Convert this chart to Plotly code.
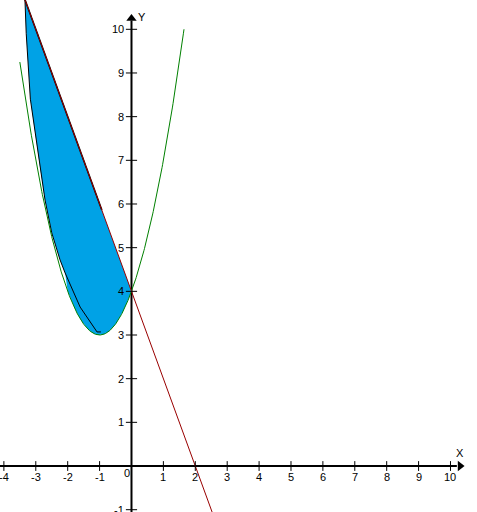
import numpy as np
import plotly.graph_objects as go

# ---- data ----
parabola_coef = [1, 2, 4]        # y = x^2 + 2x + 4
line_coef = [-2, 4]              # y = -2x + 4
parabola_domain = [-3.5, 1.646]
line_domain = [-3.5, 2.7]
x_ticks = [-4, -3, -2, -1, 1, 2, 3, 4, 5, 6, 7, 8, 9, 10]
y_ticks = [-1, 1, 2, 3, 4, 5, 6, 7, 8, 9, 10]
# hand-drawn outline of the shaded region
outline_x = [-3.34, -3.30, -3.17, -3.02, -2.87, -2.71, -2.50, -2.24, -2.08, -1.61, -1.08, -0.96]
outline_y = [10.68, 9.90, 8.40, 7.63, 6.85, 6.09, 5.34, 4.72, 4.42, 3.64, 3.07, 3.07]
region_x_limits = [-3.34, 0.0, -2.0]   # top of line, intersection, switch to outline
edge_line_end_y = 5.86

X_RANGE = [-4.122, 10.831]
Y_RANGE = [-1.053, 10.671]
X_ARROW = 10.3
Y_ARROW = 10.25

def par(x):
    return np.polyval(parabola_coef, x)

def lin(x):
    return np.polyval(line_coef, x)

fig = go.Figure()

# shaded region
lx = np.array([region_x_limits[0], region_x_limits[1]])
px_ = np.linspace(region_x_limits[1], region_x_limits[2], 60)
ox_up = [v for v in outline_x if v <= region_x_limits[2] - 0.05]
oy_up = [outline_y[outline_x.index(v)] for v in ox_up]
poly_x = list(lx) + list(px_) + ox_up[::-1]
poly_y = list(lin(lx)) + list(par(px_)) + oy_up[::-1]
fig.add_trace(go.Scatter(x=poly_x, y=poly_y, mode="lines", fill="toself",
                         fillcolor="#00A2E6", line=dict(width=0), hoverinfo="skip"))

# black outline along the line
ex0 = (edge_line_end_y - line_coef[1]) / line_coef[0]
ex = np.array([region_x_limits[0], ex0])
fig.add_trace(go.Scatter(x=ex, y=lin(ex), mode="lines",
                         line=dict(color="black", width=1.6), hoverinfo="skip"))
# black hand-drawn outline
fig.add_trace(go.Scatter(x=outline_x, y=outline_y, mode="lines",
                         line=dict(color="black", width=1), hoverinfo="skip"))

# axes (drawn at origin)
fig.add_shape(type="line", x0=X_RANGE[0], x1=X_ARROW - 0.1, y0=0, y1=0,
              line=dict(color="black", width=2), layer="below")
fig.add_shape(type="line", x0=0, x1=0, y0=Y_RANGE[0], y1=Y_ARROW - 0.05,
              line=dict(color="black", width=2), layer="below")

# parabola
gx = np.linspace(parabola_domain[0], parabola_domain[1], 300)
fig.add_trace(go.Scatter(x=gx, y=par(gx), mode="lines",
                         line=dict(color="#008000", width=1), hoverinfo="skip"))
# line
rx = np.array(line_domain)
fig.add_trace(go.Scatter(x=rx, y=lin(rx), mode="lines",
                         line=dict(color="#990000", width=1), hoverinfo="skip"))

# tick marks
fig.add_trace(go.Scatter(x=x_ticks, y=[0] * len(x_ticks), mode="markers",
                         marker=dict(symbol="line-ns", size=7,
                                     line=dict(color="black", width=1)),
                         hoverinfo="skip"))
fig.add_trace(go.Scatter(x=[0] * len(y_ticks), y=y_ticks, mode="markers",
                         marker=dict(symbol="line-ew", size=8,
                                     line=dict(color="black", width=1)),
                         hoverinfo="skip"))
# arrow heads
fig.add_trace(go.Scatter(x=[X_ARROW], y=[0], mode="markers",
                         marker=dict(symbol="triangle-right", size=9, color="black"),
                         hoverinfo="skip"))
fig.add_trace(go.Scatter(x=[0], y=[Y_ARROW], mode="markers",
                         marker=dict(symbol="triangle-up", size=9, color="black"),
                         hoverinfo="skip"))

font = dict(family="Liberation Sans, Arial, sans-serif", size=11, color="black")
ann = []
for t in x_ticks:
    ann.append(dict(x=t, y=0, text=str(t), showarrow=False, xanchor="center",
                    yanchor="middle", yshift=-11, font=font))
for t in y_ticks:
    ann.append(dict(x=0, y=t, text=str(t), showarrow=False, xanchor="right",
                    yanchor="middle", xshift=-5, font=font))
ann.append(dict(x=0, y=0, text="0", showarrow=False, xanchor="center",
                yanchor="middle", xshift=-4, yshift=-7, font=font))
ann.append(dict(x=X_ARROW, y=0, text="X", showarrow=False, xanchor="center",
                yanchor="middle", yshift=13, font=font))
ann.append(dict(x=0, y=Y_ARROW, text="Y", showarrow=False, xanchor="left",
                yanchor="middle", xshift=5, yshift=1, font=font))

fig.update_layout(
    width=477, height=512, margin=dict(l=0, r=0, t=0, b=0),
    paper_bgcolor="white", plot_bgcolor="white", showlegend=False,
    xaxis=dict(range=X_RANGE, visible=False, fixedrange=True),
    yaxis=dict(range=Y_RANGE, visible=False, fixedrange=True),
    annotations=ann,
)
fig.write_html("out.html", config={"displayModeBar": False},
               post_script="document.body.style.margin='0';")
